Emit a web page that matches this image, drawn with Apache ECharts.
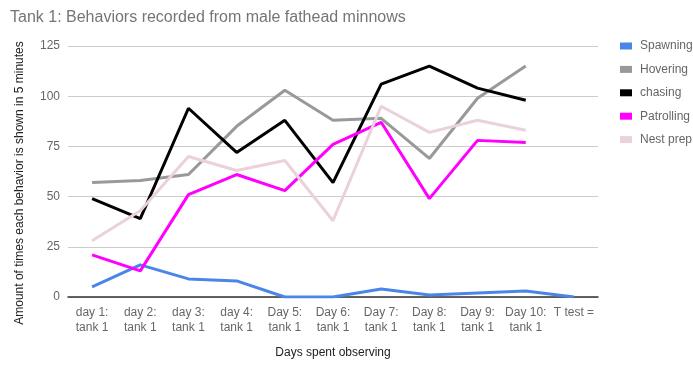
<!DOCTYPE html>
<html>
<head>
<meta charset="utf-8">
<script src="https://cdn.jsdelivr.net/npm/echarts@6/dist/echarts.min.js"></script>
<style>html,body{margin:0;padding:0;background:#fff}#c{width:693px;height:365px}</style>
</head>
<body>
<div id="c"></div>
<script>
var categories = ["day 1:\ntank 1","day 2:\ntank 1","day 3:\ntank 1","day 4:\ntank 1","Day 5:\ntank 1","Day 6:\ntank 1","Day 7:\ntank 1","Day 8:\ntank 1","Day 9:\ntank 1","Day 10:\ntank 1","T test ="];
var spawning = [5, 16, 9, 8, 0, 0, 4, 1, 2, 3, 0];
var hovering = [57, 58, 61, 85, 103, 88, 89, 69, 99, 115, null];
var chasing = [49, 39, 94, 72, 88, 57, 106, 115, 104, 98, null];
var patrolling = [21, 13, 51, 61, 53, 76, 87, 49, 78, 77, null];
var nestPrep = [28, 43, 70, 63, 68, 38, 95, 82, 88, 83, null];
var yTicks = [0, 25, 50, 75, 100, 125];

var font = "Liberation Sans, Arial, sans-serif";
function line(name, data, color) {
  return { name: name, type: 'line', data: data, showSymbol: false, symbol: 'none',
    lineStyle: { width: 3, color: color }, itemStyle: { color: color }, connectNulls: false };
}
var chart = echarts.init(document.getElementById('c'));
chart.setOption({
  animation: false,
  textStyle: { fontFamily: font },
  title: { text: 'Tank 1: Behaviors recorded from male fathead minnows', left: 5, top: 5,
    textStyle: { fontFamily: font, fontSize: 16, fontWeight: 'normal', color: '#757575' } },
  legend: { orient: 'vertical', left: 620, top: 39, padding: 0, icon: 'rect', itemWidth: 12, itemHeight: 7, itemGap: 9.4,
    textStyle: { fontFamily: font, fontSize: 12, color: '#666', lineHeight: 14, padding: [0,0,0,3] },
    data: ['Spawning','Hovering','chasing','Patrolling','Nest prep'] },
  grid: { left: 68, right: 95, top: 46, bottom: 68, containLabel: false },
  xAxis: { type: 'category', data: categories, boundaryGap: true,
    name: 'Days spent observing', nameLocation: 'middle', nameGap: 50,
    nameTextStyle: { fontFamily: font, fontSize: 12, color: '#222' },
    axisLine: { lineStyle: { color: '#333', width: 1.5 } }, axisTick: { show: false },
    axisLabel: { interval: 0, fontFamily: font, fontSize: 12, color: '#666', lineHeight: 15, margin: 8 } },
  yAxis: { type: 'value', min: yTicks[0], max: yTicks[yTicks.length-1], interval: 25,
    name: 'Amount of times each behavior is shown in 5 minutes', nameLocation: 'middle', nameGap: 42,
    nameTextStyle: { fontFamily: font, fontSize: 12, color: '#222', padding: [0, 23, 0, 0] },
    axisLine: { show: false }, axisTick: { show: false },
    axisLabel: { fontFamily: font, fontSize: 12, color: '#666', margin: 8 },
    splitLine: { lineStyle: { color: '#cccccc', width: 1 } } },
  series: [
    line('Spawning', spawning, '#4a86e8'),
    line('Hovering', hovering, '#999999'),
    line('chasing', chasing, '#000000'),
    line('Patrolling', patrolling, '#ff00ff'),
    line('Nest prep', nestPrep, '#ead1dc')
  ]
});
</script>
</body>
</html>
